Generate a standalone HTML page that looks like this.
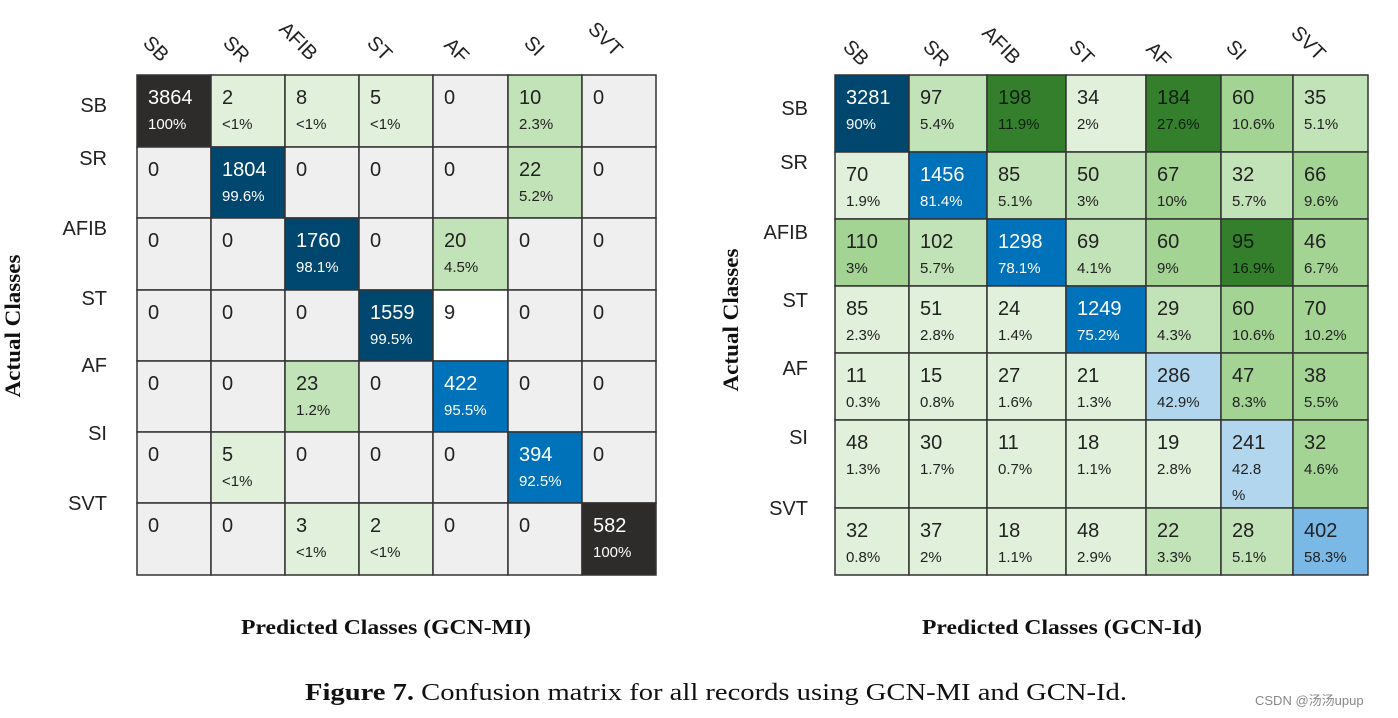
<!DOCTYPE html>
<html><head><meta charset="utf-8"><style>
body{margin:0;background:#fff;width:1398px;height:718px;overflow:hidden}
svg{display:block}
text{font-family:"Liberation Sans","DejaVu Sans",sans-serif}
.serif{font-family:"Liberation Serif",serif}
</style></head><body>
<svg id="fig" width="1398" height="718" viewBox="0 0 1398 718">
<text class="serif" transform="translate(20,326) rotate(-90)" text-anchor="middle" font-size="22" font-weight="bold" fill="#111" textLength="143" lengthAdjust="spacingAndGlyphs">Actual Classes</text>
<text class="serif" transform="translate(738,320) rotate(-90)" text-anchor="middle" font-size="22" font-weight="bold" fill="#111" textLength="143" lengthAdjust="spacingAndGlyphs">Actual Classes</text>
<text class="serif" x="386" y="634" text-anchor="middle" font-size="21" font-weight="bold" fill="#111" textLength="290" lengthAdjust="spacingAndGlyphs">Predicted Classes (GCN-MI)</text>
<text class="serif" x="1062" y="634" text-anchor="middle" font-size="21" font-weight="bold" fill="#111" textLength="280" lengthAdjust="spacingAndGlyphs">Predicted Classes (GCN-Id)</text>
<text class="serif" x="716" y="700" text-anchor="middle" font-size="24" fill="#111" textLength="822" lengthAdjust="spacingAndGlyphs"><tspan font-weight="bold">Figure 7.</tspan> Confusion matrix for all records using GCN-MI and GCN-Id.</text>
<text x="1255" y="705" font-size="13" fill="#888" style="font-family:'Liberation Sans','Noto Sans CJK SC',sans-serif">CSDN @汤汤upup</text>
</svg>
<script>
const classes=["SB","SR","AFIB","ST","AF","SI","SVT"];
const leftCounts=[[3864,2,8,5,0,10,0],[0,1804,0,0,0,22,0],[0,0,1760,0,20,0,0],[0,0,0,1559,9,0,0],[0,0,23,0,422,0,0],[0,5,0,0,0,394,0],[0,0,3,2,0,0,582]];
const leftPct=[["100%","<1%","<1%","<1%","","2.3%",""],["","99.6%","","","","5.2%",""],["","","98.1%","","4.5%","",""],["","","","99.5%","","",""],["","","1.2%","","95.5%","",""],["","<1%","","","","92.5%",""],["","","<1%","<1%","","","100%"]];
const leftShade=[["K","G1","G1","G1","N","G2","N"],["N","B0","N","N","N","G2","N"],["N","N","B0","N","G2","N","N"],["N","N","N","B0","W","N","N"],["N","N","G2","N","B1","N","N"],["N","G1","N","N","N","B1","N"],["N","N","G1","G1","N","N","K"]];
const rightCounts=[[3281,97,198,34,184,60,35],[70,1456,85,50,67,32,66],[110,102,1298,69,60,95,46],[85,51,24,1249,29,60,70],[11,15,27,21,286,47,38],[48,30,11,18,19,241,32],[32,37,18,48,22,28,402]];
const rightPct=[["90%","5.4%","11.9%","2%","27.6%","10.6%","5.1%"],["1.9%","81.4%","5.1%","3%","10%","5.7%","9.6%"],["3%","5.7%","78.1%","4.1%","9%","16.9%","6.7%"],["2.3%","2.8%","1.4%","75.2%","4.3%","10.6%","10.2%"],["0.3%","0.8%","1.6%","1.3%","42.9%","8.3%","5.5%"],["1.3%","1.7%","0.7%","1.1%","2.8%","42.8\n%","4.6%"],["0.8%","2%","1.1%","2.9%","3.3%","5.1%","58.3%"]];
const rightShade=[["B0","G2","D","G1","D","G3","G2"],["G1","B1","G2","G2","G3","G2","G3"],["G3","G2","B1","G2","G3","D","G3"],["G1","G1","G1","B1","G2","G3","G3"],["G1","G1","G1","G1","LB","G3","G3"],["G1","G1","G1","G1","G1","LB","G3"],["G1","G1","G1","G1","G2","G2","B2"]];
const palette={K:"#2e2b2b",B0:"#00476f",B1:"#0072ba",B2:"#7ab9e5",LB:"#b3d6ef",N:"#efefef",W:"#ffffff",G1:"#e0f0da",G2:"#c2e2b8",G3:"#a3d494",D:"#347f2c"};
const darkText={K:1,B0:1,B1:1};
const NS="http://www.w3.org/2000/svg";
const svg=document.getElementById('fig');
function mk(tag,attrs){const e=document.createElementNS(NS,tag);for(const k in attrs)e.setAttribute(k,attrs[k]);svg.appendChild(e);return e;}
function draw(prefix,colX,rowY,counts,pct,shade,rowLblX,rowLblY,colLbl){
  for(let r=0;r<7;r++)for(let c=0;c<7;c++){
    const x=colX[c],y=rowY[r],w=colX[c+1]-x,h=rowY[r+1]-y,s=shade[r][c];
    const rc=mk('rect',{x:x,y:y,width:w,height:h,fill:palette[s],stroke:"#333","stroke-width":1.5});
    
    
    const col=darkText[s]?"#fff":(s==="D"?"#0d1f0b":"#222");
    const t=mk('text',{x:x+11,y:y+29,"font-size":20,fill:col});t.textContent=counts[r][c];
    
    
    if(pct[r][c]){pct[r][c].split("\n").forEach((p,i)=>{const q=mk('text',{x:x+11,y:y+54+i*26,"font-size":15,fill:col});q.textContent=p;
      
      });}
  }
  classes.forEach((k,i)=>{
    const t=mk('text',{x:rowLblX,y:rowLblY[i],"text-anchor":"end","font-size":20,fill:"#222"});t.textContent=k;
    
    
    const cx=colLbl[i][0],cy=colLbl[i][1];
    const u=mk('text',{x:cx,y:cy,"font-size":20,fill:"#222",transform:`rotate(45 ${cx} ${cy})`});u.textContent=k;
    
    
  });
}
draw('left',[137,211,285,359,433,508,582,656],[75,147,218,290,361,432,503,575],leftCounts,leftPct,leftShade,107,[112,165,235,305,372,440,510],
 [[142,44],[222,44],[278,30],[366,44],[443,46],[523,44],[587,30]]);
draw('right',[835,909,987,1066,1146,1221,1293,1368],[75,152,219,286,353,420,508,575],rightCounts,rightPct,rightShade,808,[115,169,239,307,375,444,515],
 [[842,48],[922,48],[981,34],[1068,48],[1145,50],[1225,48],[1290,34]]);
</script>
</body></html>
